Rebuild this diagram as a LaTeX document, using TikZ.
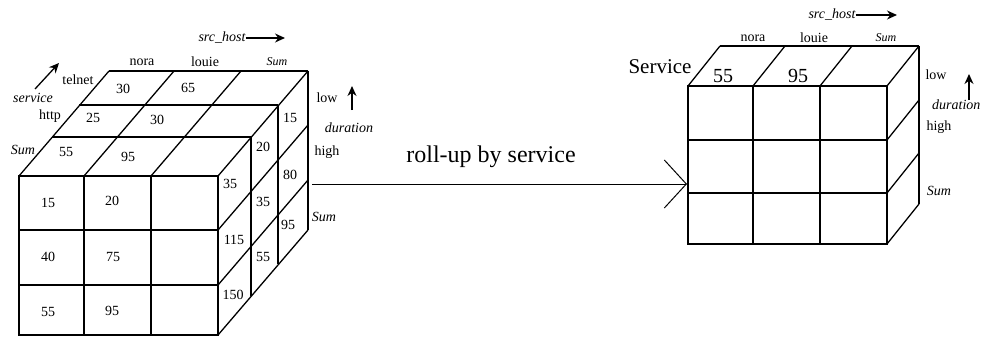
\documentclass[tikz,border=0pt]{standalone}
\usepackage{fontspec}
\setmainfont{Liberation Serif}
\usetikzlibrary{arrows.meta}
\begin{document}
\begin{tikzpicture}[x=1pt,y=-1pt,
  edge/.style={line width=1.3pt, line join=miter},
  num/.style={font=\fontsize{14}{14}\selectfont, inner sep=0pt},
  lbl/.style={font=\fontsize{14}{14}\selectfont, inner sep=0pt},
  ilbl/.style={font=\fontsize{14}{14}\selectfont\itshape, inner sep=0pt},
  slbl/.style={font=\fontsize{12}{12}\selectfont\itshape, inner sep=0pt},
  bignum/.style={font=\fontsize{20}{20}\selectfont, inner sep=0pt},
  axisarrow/.style={line width=1.3pt, -{Stealth[length=10pt,width=9pt]}},
  rollarrow/.style={line width=1pt, -{Straight Barb[length=22pt,width=48pt,line width=1pt]}},
]
\useasboundingbox (0,0) rectangle (983,337);

% ---------- left cube: 3 x 3 x 3 (duration x src_host x service) ----------
% front face
\draw[edge] (19,176) rectangle (218,335);
\foreach \x in {84,151} \draw[edge] (\x,176) -- (\x,335);
\foreach \y in {230,285} \draw[edge] (19,\y) -- (218,\y);
% top face: column edges running back
\foreach \x in {19,84,151,218} \draw[edge] (\x,176) -- ++(90,-105);
\draw[edge] (109,71) -- (308,71);
% top face: service layer boundaries
\draw[edge] (52,137) -- (251,137);
\draw[edge] (79,105) -- (278,105);
% right face: layer verticals and row edges
\draw[edge] (251,137) -- (251,296);
\draw[edge] (278,105) -- (278,264);
\draw[edge] (308,71) -- (308,230);
\foreach \y in {230,285,335} \draw[edge] (218,\y) -- ++(90,-105);

% front face values (service = Sum)
\node[num] (f11) at (48,203) {15};  \node[num] (f12) at (112,201) {20};
\node[num] (f21) at (48,257) {40};  \node[num] (f22) at (113,257) {75};
\node[num] (f31) at (48,312) {55};  \node[num] (f32) at (112,311) {95};
% top face values
\node[num] (t1) at (123,89) {30};   \node[num] (t2) at (188,88) {65};
\node[num] (h1) at (93,118) {25};   \node[num] (h2) at (157,120) {30};
\node[num] (s1) at (66,152) {55};   \node[num] (s2) at (128,157) {95};
% right face values
\node[num] (r11) at (230,184) {35};
\node[num] (r12) at (234,240) {115};
\node[num] (r13) at (233,295) {150};
\node[num] (r21) at (263,147) {20};
\node[num] (r22) at (263,202) {35};
\node[num] (r23) at (263,257) {55};
\node[num] (r31) at (290,118) {15};
\node[num] (r32) at (290,175) {80};
\node[num] (r33) at (288,225) {95};

% axis labels
\node[ilbl] (srcA) at (222,38) {src\_host};
\coordinate (srcAend) at (285,38);
\draw[axisarrow] (srcA.east) -- (srcAend);
\node[lbl] (noraA) at (142,62) {nora};
\node[lbl] (louieA) at (205,62) {louie};
\node[slbl] (sumA) at (277,62) {Sum};
\node[lbl] (telnetA) at (78,80) {telnet};
\node[ilbl] (servA) at (33,98) {service};
\coordinate (servAs) at (35,89);
\coordinate (servAe) at (59,63);
\draw[axisarrow] (servAs) -- (servAe);
\node[lbl] (httpA) at (50,116) {http};
\node[ilbl] (sumSA) at (23,150) {Sum};
\node[lbl] (lowA) at (327,98) {low};
\node[ilbl] (durA) at (349,128) {duration};
\coordinate (durAs) at (352,110);
\coordinate (durAe) at (352,86);
\draw[axisarrow] (durAs) -- (durAe);
\node[lbl] (highA) at (327,152) {high};
\node[ilbl] (sumDA) at (324,217) {Sum};

% ---------- roll-up ----------
\coordinate (rollS) at (312,184);
\coordinate (rollE) at (687,184);
\draw[rollarrow] (rollS) -- (rollE);
\node[font=\fontsize{24}{24}\selectfont, inner sep=0pt] (rolltxt) at (491,157) {roll-up by service};

% ---------- right cube: 3 x 3 x 1 ----------
\draw[edge] (688,86) rectangle (887,244);
\foreach \x in {753,820} \draw[edge] (\x,86) -- (\x,244);
\foreach \y in {140,193} \draw[edge] (688,\y) -- (887,\y);
\foreach \x in {688,753,820,887} \draw[edge] (\x,86) -- ++(32,-40);
\draw[edge] (720,46) -- (919,46);
\draw[edge] (919,46) -- (919,204);
\foreach \y in {140,193,244} \draw[edge] (887,\y) -- ++(32,-40);

\node[bignum] (b1) at (723,76) {55};
\node[bignum] (b2) at (798,76) {95};

\node[ilbl] (srcB) at (832,15) {src\_host};
\coordinate (srcBend) at (897,15);
\draw[axisarrow] (srcB.east) -- (srcBend);
\node[lbl] (noraB) at (753,38) {nora};
\node[lbl] (louieB) at (814,38) {louie};
\node[slbl] (sumB) at (886,38) {Sum};
\node[font=\fontsize{21}{21}\selectfont, inner sep=0pt] (servB) at (660,67) {Service};
\node[lbl] (lowB) at (936,75) {low};
\coordinate (durBs) at (969,100);
\coordinate (durBe) at (969,74);
\draw[axisarrow] (durBs) -- (durBe);
\node[ilbl, anchor=west] (durB) at (932,105) {duration};
\node[lbl] (highB) at (939,127) {high};
\node[ilbl] (sumB2) at (939,191) {Sum};
\end{tikzpicture}
\end{document}
